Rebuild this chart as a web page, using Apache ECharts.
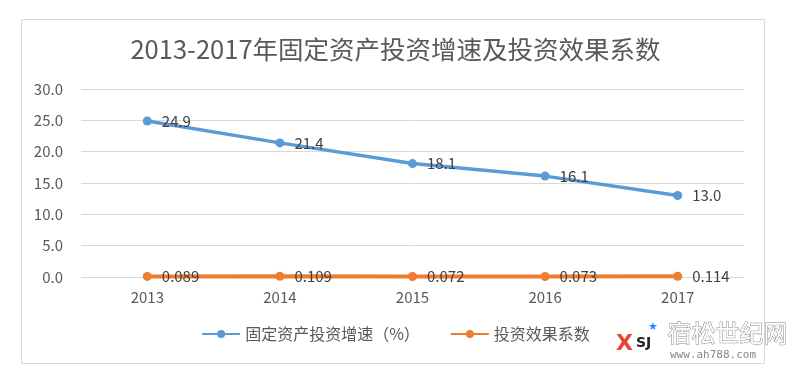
<!DOCTYPE html>
<html>
<head>
<meta charset="utf-8">
<script src="https://cdn.jsdelivr.net/npm/echarts@6/dist/echarts.min.js"></script>
<style>
html,body{margin:0;padding:0;background:#fff;}
#c{width:791px;height:380px;}
</style>
</head>
<body>
<div id="c"></div>
<script>
const categories = ['2013', '2014', '2015', '2016', '2017'];
const growthValues = [24.9, 21.4, 18.1, 16.1, 13.0];
const effectValues = [0.089, 0.109, 0.072, 0.073, 0.114];
const growthName = '固定资产投资增速（%）';
const effectName = '投资效果系数';
const yTicks = { min: 0, max: 30, interval: 5 };

const FONT = '"Noto Sans CJK SC", "Noto Sans", sans-serif';
const chart = echarts.init(document.getElementById('c'), null, { renderer: 'canvas' });
chart.setOption({
  backgroundColor: '#fff',
  animation: false,
  title: {
    text: '2013-2017年固定资产投资增速及投资效果系数',
    left: 'center',
    top: 32,
    textStyle: { fontFamily: FONT, fontSize: 25.5, fontWeight: 'normal', color: '#595959' }
  },
  grid: { left: 81, right: 47, top: 89, bottom: 103 },
  legend: {
    bottom: 33,
    left: 'center',
    itemWidth: 38,
    itemHeight: 10,
    itemGap: 30,
    textStyle: { fontFamily: FONT, fontSize: 16, color: '#595959' },
    data: [growthName, effectName]
  },
  xAxis: {
    type: 'category',
    data: categories,
    boundaryGap: true,
    axisLine: { show: false },
    axisTick: { show: false },
    axisLabel: { fontFamily: FONT, fontSize: 15, color: '#595959', margin: 13 }
  },
  yAxis: {
    type: 'value',
    min: yTicks.min,
    max: yTicks.max,
    interval: yTicks.interval,
    axisLine: { show: false },
    axisTick: { show: false },
    splitLine: { lineStyle: { color: '#d9d9d9', width: 1 } },
    axisLabel: { fontFamily: FONT, fontSize: 15, color: '#595959', margin: 18,
      formatter: v => v.toFixed(1) }
  },
  series: [
    {
      name: growthName,
      type: 'line',
      data: growthValues,
      symbol: 'circle',
      symbolSize: 9,
      lineStyle: { color: '#5b9bd5', width: 3.5 },
      itemStyle: { color: '#5b9bd5' },
      label: { show: true, position: 'right', distance: 10, fontFamily: FONT, fontSize: 15, color: '#404040',
        formatter: p => p.value.toFixed(1) }
    },
    {
      name: effectName,
      type: 'line',
      data: effectValues,
      symbol: 'circle',
      symbolSize: 9,
      lineStyle: { color: '#ed7d31', width: 4 },
      itemStyle: { color: '#ed7d31' },
      label: { show: true, position: 'right', distance: 10, fontFamily: FONT, fontSize: 15, color: '#404040',
        formatter: p => p.value.toFixed(3) }
    }
  ],
  graphic: [
    { type: 'rect', shape: { x: 21.5, y: 19.5, width: 743, height: 344 }, style: { fill: 'none', stroke: '#d9d9d9', lineWidth: 1 }, z: -1 },
    { type: 'text', left: 616, top: 333, style: { text: 'X', fill: '#e8452c', font: 'bold 22px "DejaVu Sans"' } },
    { type: 'text', left: 636, top: 336, style: { text: 'SJ', fill: '#222', font: 'bold 14px "DejaVu Sans"' } },
    { type: 'text', left: 648, top: 322, style: { text: '★', fill: '#1e90ff', font: '11px "DejaVu Sans"' } },
    { type: 'text', left: 667, top: 320, style: { text: '宿松世纪网', fill: '#ffffff', stroke: '#8a8a8a', lineWidth: 1, font: '24px "Noto Sans CJK SC"' } },
    { type: 'text', left: 670, top: 350, style: { text: 'www.ah788.com', fill: '#888', font: '11px "DejaVu Sans Mono"' } }
  ]
});
</script>
</body>
</html>
